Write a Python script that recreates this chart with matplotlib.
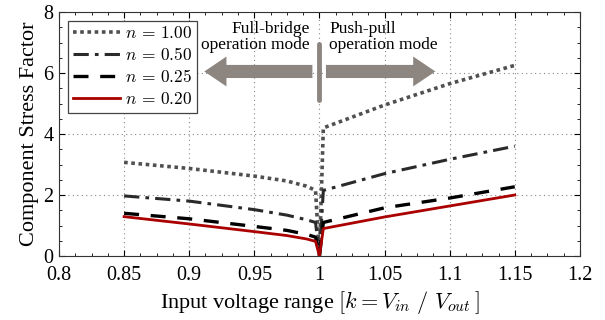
import matplotlib
matplotlib.use("Agg")
import matplotlib.pyplot as plt
from matplotlib.patches import FancyArrow
from matplotlib.ticker import MultipleLocator

plt.rcParams['font.family'] = ['Liberation Serif', 'DejaVu Serif']
plt.rcParams['mathtext.fontset'] = 'cm'

k = [0.85, 0.9, 0.95, 0.975, 0.99, 0.997, 1.0, 1.003, 1.05, 1.1, 1.15]
n100 = [3.07, 2.87, 2.62, 2.46, 2.29, 2.15, 0.0, 4.2, 4.95, 5.65, 6.25]
n050 = [1.97, 1.80, 1.52, 1.34, 1.19, 1.10, 0.0, 2.15, 2.70, 3.17, 3.60]
n025 = [1.40, 1.22, 0.97, 0.84, 0.71, 0.62, 0.0, 1.10, 1.58, 1.90, 2.27]
n020 = [1.29, 1.05, 0.80, 0.67, 0.56, 0.48, 0.0, 0.90, 1.28, 1.64, 2.00]
labels = [r'$n\, =\, 1.00$', r'$n\, =\, 0.50$', r'$n\, =\, 0.25$', r'$n\, =\, 0.20$']
xticks = [0.8, 0.85, 0.9, 0.95, 1.0, 1.05, 1.1, 1.15, 1.2]
xticklabels = ['0.8', '0.85', '0.9', '0.95', '1', '1.05', '1.1', '1.15', '1.2']
yticks = [0, 2, 4, 6, 8]

fig = plt.figure(figsize=(6.05, 3.2), dpi=100)
ax = fig.add_axes([0.0975, 0.2, 0.861, 0.7625])

ax.plot(k, n100, color='#505050', lw=2.6, linestyle=(0, (1, 1)), label=labels[0])
ax.plot(k, n050, color='#2a2a2a', lw=2.2, linestyle=(0, (5, 2, 1.2, 2)), label=labels[1])
ax.plot(k, n025, color='black', lw=2.4, linestyle=(0, (4.5, 3.5)), label=labels[2])
ax.plot(k, n020, color='#aa0000', lw=2.0, linestyle='-', label=labels[3])

gray = '#8c8580'
ax.add_patch(FancyArrow(0.9946, 6.05, -0.066, 0, width=0.43, head_width=0.98,
                        head_length=0.017, length_includes_head=False,
                        color=gray, ec='none', zorder=5))
ax.add_patch(FancyArrow(1.005, 6.05, 0.067, 0, width=0.43, head_width=0.98,
                        head_length=0.017, length_includes_head=False,
                        color=gray, ec='none', zorder=5))
ax.plot([1.0, 1.0], [5.1, 6.95], color=gray, lw=3.5, solid_capstyle='round', zorder=5)

ax.text(0.9923, 7.72, 'Full-bridge\noperation mode', ha='right', va='top',
        fontsize=12.5, linespacing=1.0)
ax.text(1.0077, 7.72, 'Push-pull\noperation mode', ha='left', va='top',
        fontsize=12.5, linespacing=1.0)

ax.set_xlim(0.8, 1.2)
ax.set_ylim(0, 8)
ax.set_xticks(xticks)
ax.set_xticklabels(xticklabels)
ax.set_yticks(yticks)
ax.xaxis.set_minor_locator(MultipleLocator(0.0125))
ax.yaxis.set_minor_locator(MultipleLocator(0.5))
ax.tick_params(which='both', direction='in', top=True, right=True, labelsize=14.5)
ax.tick_params(which='major', length=4)
ax.tick_params(which='minor', length=2.5)
ax.tick_params(axis='x', which='major', pad=7)
ax.tick_params(axis='y', which='major', pad=4)
ax.grid(True, which='major', color='#888888', linestyle=(0, (1, 3)), lw=0.8)
for s in ax.spines.values():
    s.set_color('#333333')

ax.set_xlabel(r'Input voltage range $[k = V_{in}\ /\ V_{out}\,]$', fontsize=16, labelpad=3)
ax.set_ylabel('Component Stress Factor', fontsize=16, labelpad=3)

leg = ax.legend(loc='upper left', fontsize=12.5, frameon=True, fancybox=False,
                edgecolor='#444444', framealpha=1, handlelength=2.7,
                borderaxespad=0.5, labelspacing=0.3, borderpad=0.3, handletextpad=0.3)
leg.get_frame().set_linewidth(0.9)

fig.savefig('out.png', dpi=100)
